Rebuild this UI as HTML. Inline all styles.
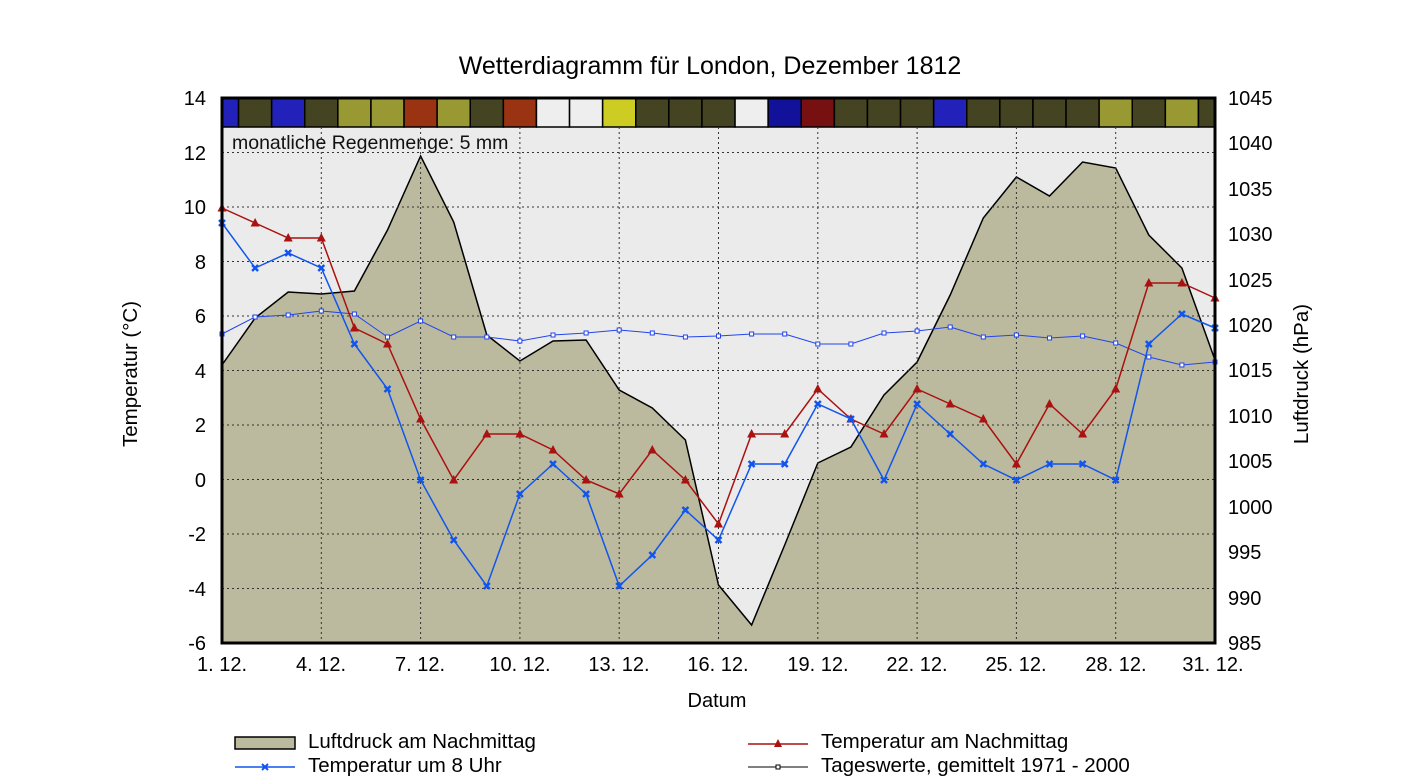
<!DOCTYPE html>
<html><head><meta charset="utf-8">
<style>
body{margin:0;background:#fff;}
svg{display:block;font-family:"Liberation Sans",Arial,sans-serif;}
</style></head>
<body>
<svg id="s" width="1425" height="780" xmlns="http://www.w3.org/2000/svg">
<rect width="1425" height="780" fill="#fff"/>
<text x="710" y="74" font-size="25" text-anchor="middle">Wetterdiagramm für London, Dezember 1812</text>
<rect x="222" y="98" width="993" height="545" fill="#ebebeb"/>
<g id="cells"></g>
<path id="press" fill="#bbba9e" stroke="#000" stroke-width="1.5"/>
<g id="grid" stroke="#333" stroke-width="1" stroke-dasharray="2,3"></g>
<polyline id="avg" fill="none" stroke="#2244ee" stroke-width="1"/>
<g id="avgm"></g>
<polyline id="red" fill="none" stroke="#aa1111" stroke-width="1.5"/>
<g id="redm"></g>
<polyline id="blue" fill="none" stroke="#1155ee" stroke-width="1.5"/>
<g id="bluem"></g>
<rect x="222" y="98" width="993" height="545" fill="none" stroke="#000" stroke-width="3"/>
<text x="232" y="149" font-size="19.5" fill="#111">monatliche Regenmenge: 5 mm</text>
<g font-size="20" text-anchor="end">
<text x="206" y="105">14</text><text x="206" y="160">12</text><text x="206" y="214">10</text>
<text x="206" y="269">8</text><text x="206" y="323">6</text><text x="206" y="378">4</text>
<text x="206" y="432">2</text><text x="206" y="487">0</text><text x="206" y="541">-2</text>
<text x="206" y="596">-4</text><text x="206" y="650">-6</text>
</g>
<g font-size="20" text-anchor="start">
<text x="1228" y="105">1045</text><text x="1228" y="150">1040</text><text x="1228" y="196">1035</text>
<text x="1228" y="241">1030</text><text x="1228" y="287">1025</text><text x="1228" y="332">1020</text>
<text x="1228" y="377">1015</text><text x="1228" y="423">1010</text><text x="1228" y="468">1005</text>
<text x="1228" y="514">1000</text><text x="1228" y="559">995</text><text x="1228" y="605">990</text>
<text x="1228" y="650">985</text>
</g>
<g font-size="20" text-anchor="middle">
<text x="222" y="671">1. 12.</text><text x="321" y="671">4. 12.</text><text x="420" y="671">7. 12.</text>
<text x="520" y="671">10. 12.</text><text x="619" y="671">13. 12.</text><text x="718" y="671">16. 12.</text>
<text x="818" y="671">19. 12.</text><text x="917" y="671">22. 12.</text><text x="1016" y="671">25. 12.</text>
<text x="1116" y="671">28. 12.</text><text x="1213" y="671">31. 12.</text>
<text x="717" y="707">Datum</text>
</g>
<text font-size="20.5" text-anchor="middle" transform="translate(137,374) rotate(-90)">Temperatur (°C)</text>
<text font-size="20.5" text-anchor="middle" transform="translate(1308,374) rotate(-90)">Luftdruck (hPa)</text>
<g font-size="20.5">
<rect x="235" y="737" width="60" height="12" fill="#bbba9e" stroke="#000" stroke-width="1.5"/>
<text x="308" y="748">Luftdruck am Nachmittag</text>
<line x1="235" y1="767" x2="295" y2="767" stroke="#1155ee" stroke-width="1.5"/>
<path d="M262,764l6,6M268,764l-6,6" stroke="#1155ee" stroke-width="2"/>
<text x="308" y="772">Temperatur um 8 Uhr</text>
<line x1="748" y1="744" x2="808" y2="744" stroke="#aa1111" stroke-width="1.5"/>
<polygon points="778,739 782,747 774,747" fill="#aa1111"/>
<text x="821" y="748">Temperatur am Nachmittag</text>
<line x1="748" y1="767" x2="808" y2="767" stroke="#000" stroke-width="1"/>
<rect x="776" y="765" width="4" height="4" fill="#fff" stroke="#000" stroke-width="1"/>
<text x="821" y="772">Tageswerte, gemittelt 1971 - 2000</text>
</g>
</svg>
<script>
var X=function(d){return 222+(d-1)*33.1;};
var ns="http://www.w3.org/2000/svg";
function el(p,t,a){var e=document.createElementNS(ns,t);for(var k in a)e.setAttribute(k,a[k]);document.getElementById(p).appendChild(e);return e;}
var cols=["#2222bb","#444422","#2222bb","#444422","#999933","#999933","#993311","#999933","#444422","#993311","#eeeeee","#eeeeee","#cccc22","#444422","#444422","#444422","#eeeeee","#111199","#771111","#444422","#444422","#444422","#2222bb","#444422","#444422","#444422","#444422","#999933","#444422","#999933","#444422"];
for(var d=1;d<=31;d++){var x0=Math.max(222,X(d)-16.55),x1=Math.min(1215,X(d)+16.55);
el("cells","rect",{x:x0,y:98,width:x1-x0,height:29,fill:cols[d-1],stroke:"#000","stroke-width":1.5});}
for(var d=4;d<31;d+=3)el("grid","line",{x1:X(d),y1:127,x2:X(d),y2:643});
for(var t=-4;t<=12;t+=2){var y=479.5-t*27.25;el("grid","line",{x1:222,y1:y,x2:1215,y2:y});}
var P=[365,318,292,294,291,230,156,222,335,361,341,340,390,408,440,585,625,545,463,447,395,362,295,218,177,196,162,168,235,268,360];
var R=[208,223,238,238,328,344,419,480,434,434,450,480,494,450,480,524,434,434,389,419,434,389,404,419,464,404,434,389,283,283,298];
var B=[223,268,253,268,344,389,480,540,586,494,464,494,586,555,510,540,464,464,404,419,480,404,434,464,480,464,464,480,344,314,328];
var A=[334,317,315,311,314,337,321,337,337,341,335,333,330,333,337,336,334,334,344,344,333,331,327,337,335,338,336,343,357,365,362];
function pts(a){return a.map(function(v,i){return X(i+1)+","+v;}).join(" ");}
document.getElementById("press").setAttribute("d","M222,643 L"+pts(P).split(" ").join(" L")+" L1215,643 Z");
document.getElementById("avg").setAttribute("points",pts(A));
document.getElementById("red").setAttribute("points",pts(R));
document.getElementById("blue").setAttribute("points",pts(B));
for(var i=0;i<31;i++){var x=X(i+1);
el("avgm","rect",{x:x-2,y:A[i]-2,width:4,height:4,fill:"#fff",stroke:"#2244ee","stroke-width":1});
el("redm","polygon",{points:(x)+","+(R[i]-5)+" "+(x+4.5)+","+(R[i]+3.5)+" "+(x-4.5)+","+(R[i]+3.5),fill:"#aa1111"});
el("bluem","path",{d:"M"+(x-3)+","+(B[i]-3)+"l6,6M"+(x+3)+","+(B[i]-3)+"l-6,6",stroke:"#1155ee","stroke-width":2.5});}
</script>
</body></html>
